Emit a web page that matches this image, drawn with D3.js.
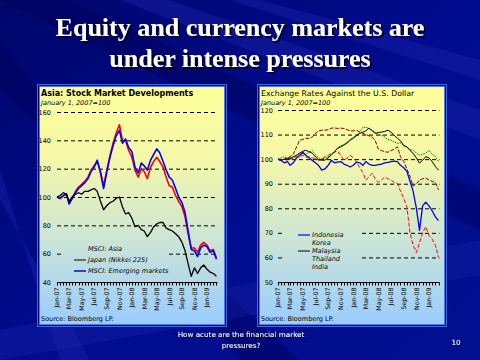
<!DOCTYPE html>
<html><head><meta charset="utf-8">
<script src="https://cdn.jsdelivr.net/npm/d3@7"></script>
<style>html,body{margin:0;padding:0;background:#000a8a;overflow:hidden}svg{display:block}</style>
</head><body><svg id="c" width="480" height="360"></svg>
<script>
// ---------- data ----------
const dates = ["2007-01-01","2007-01-16","2007-02-01","2007-02-16","2007-03-01","2007-03-16","2007-04-01","2007-04-16","2007-05-01","2007-05-16","2007-06-01","2007-06-16","2007-07-01","2007-07-16","2007-08-01","2007-08-16","2007-09-01","2007-09-16","2007-10-01","2007-10-16","2007-11-01","2007-11-16","2007-12-01","2007-12-16",
"2008-01-01","2008-01-16","2008-02-01","2008-02-16","2008-03-01","2008-03-16","2008-04-01","2008-04-16","2008-05-01","2008-05-16","2008-06-01","2008-06-16","2008-07-01","2008-07-16","2008-08-01","2008-08-16","2008-09-01","2008-09-16","2008-10-01","2008-10-16","2008-11-01","2008-11-16","2008-12-01","2008-12-16",
"2009-01-01","2009-01-16","2009-02-01","2009-02-16"];
const xTickDates = ["2007-01-01","2007-03-01","2007-05-01","2007-07-01","2007-09-01","2007-11-01","2008-01-01","2008-03-01","2008-05-01","2008-07-01","2008-09-01","2008-11-01","2009-01-01"];
const xTickLabels = ["Jan-07","Mar-07","May-07","Jul-07","Sep-07","Nov-07","Jan-08","Mar-08","May-08","Jul-08","Sep-08","Nov-08","Jan-09"];

// Left: Asia stock markets (Jan 1 2007 = 100)
const leftYTicks = [40,60,80,100,120,140,160];
const msciAsia = [100,99,101,102,96,99,104,107,109,111,114,119,122,125,118,108,119,129,138,145,151,140,140,133,128,119,114,120,118,113,121,125,128,125,121,114,108,107,101,97,93,86,74,64,64,61,66,68,66,62,63,57];
const msciEM   = [100,99,101,102,95,99,103,106,108,110,113,118,121,126,117,106,118,128,136,143,147,138,141,135,132,121,117,124,122,119,126,130,134,131,125,119,114,112,106,100,96,89,76,63,62,58,64,66,65,61,62,56];
const nikkei   = [100,101,103,102,97,100,102,103,102,104,104,105,106,104,97,91,94,96,97,99,100,93,88,89,85,79,80,77,76,72,75,79,81,82,82,78,77,76,74,72,68,62,53,44,50,46,50,52,49,47,46,44];

// Right: exchange rates vs USD (Jan 1 2007 = 100)
const rightYTicks = [50,60,70,80,90,100,110,120];
const indonesia = [100,99.5,98.5,99,97.5,98.5,100.5,101.5,102.8,101.5,100.5,99.5,98.5,97.5,95.5,96,97.5,99.5,98.5,98.8,99,98,97.5,96.8,97.5,98.8,98.5,97.5,99,98,97.5,97.5,97.8,98,98.5,98.7,99,99.2,99,97.5,96.5,95,91,87,80,71,81,82.5,81,79,76.5,75];
const korea     = [100,99.5,100,99.5,100,100.5,101,101,101.6,100.8,101,100.5,100.4,99.5,100,101,101.5,102.4,102.8,103.3,101.5,99.6,100.4,101.6,100.5,98.8,96.5,94.5,91.5,92.7,94.3,92,90.6,91.5,92.7,92,91.5,90.5,90,87,84,80.5,70,65,62,66,70,72.5,69,67.5,65,60];
const malaysia  = [100,99.5,100,100.2,100.4,101,101.6,102.5,103.2,103.6,103,102.4,101,99.8,99.6,99.6,100.5,101.6,103,104.4,105,105.7,106.5,107.7,108.5,109.5,110.5,111,111.5,112.6,111.5,110.5,110.8,111,111.3,111.8,111,109.7,108.5,107.5,105.5,105,103.5,102.4,100.5,98.4,99.5,101,100.5,99,97,95.5];
const thailand  = [100,100.5,101,100.5,100,100.4,101.5,102,102.4,102,102.8,103.5,102,100.5,100,100.5,101,102,103,104.5,105.5,106,107,108,109,109.7,111,113,113,112.5,111.8,111,110,109.7,109,108,107.7,107,106.5,106.5,105.5,105,104,103.6,102.5,101.6,102,102.4,103.6,102,101,99];
const india     = [100,99.5,100,100.5,101,102,105,107.7,108,108.5,108.5,109,110.5,111.5,111.8,111.8,112,112.6,112.7,112.5,112.6,112.5,112,111.5,111.5,111.8,111,110.5,110,109.5,109,107.5,104,103.5,103,102.8,103.5,104,105,101,99,96,93,89,90,91.5,92,92.3,91.5,91,90.5,87.5];

// ---------- drawing ----------
const parse = d3.timeParse("%Y-%m-%d");
const T = dates.map(parse);
const svg = d3.select("#c");
const defs = svg.append("defs");

const sh = defs.append("filter").attr("id","sh").attr("x","-5%").attr("y","-20%").attr("width","115%").attr("height","160%");
sh.append("feDropShadow").attr("dx",2).attr("dy",2).attr("stdDeviation",0).attr("flood-color","#000020").attr("flood-opacity",1);
const sh2 = defs.append("filter").attr("id","sh2").attr("x","-5%").attr("y","-20%").attr("width","115%").attr("height","160%");
sh2.append("feDropShadow").attr("dx",1).attr("dy",1).attr("stdDeviation",0).attr("flood-color","#000030").attr("flood-opacity",1);

// slide background
const bg = defs.append("linearGradient").attr("id","bg").attr("x1","0").attr("y1","0").attr("x2","1").attr("y2","1");
bg.append("stop").attr("offset","0").attr("stop-color","#00066a");
bg.append("stop").attr("offset","0.5").attr("stop-color","#000c8e");
bg.append("stop").attr("offset","1").attr("stop-color","#00108f");
svg.append("rect").attr("width",480).attr("height",360).attr("fill","url(#bg)");
const streaks = [
  [[0,0],[70,0],[480,190],[480,230]],
  [[120,0],[170,0],[480,110],[480,140]],
  [[230,0],[260,0],[480,60],[480,80]],
  [[0,40],[0,90],[300,360],[240,360]],
  [[0,170],[0,200],[90,360],[60,360]],
  [[0,330],[480,240],[480,275],[0,360]]
];
svg.append("g").selectAll("path").data(streaks).join("path")
  .attr("d", d => "M" + d.join("L") + "Z")
  .attr("fill", (d,i) => i === 0 || i === 3 ? "#000058" : "#1a22a8")
  .attr("opacity", (d,i) => i === 5 ? 0.35 : 0.45);

// title
const titleLines = ["Equity and currency markets are","under intense pressures"];
const tg = svg.append("g").attr("font-family","Liberation Serif, Times New Roman, serif")
  .attr("font-weight","bold").attr("font-size",26).attr("text-anchor","middle").attr("filter","url(#sh)");
titleLines.forEach((s,i) => {
  tg.append("text").attr("x",240).attr("y",36 + i*31).attr("fill","#ffffff").text(s);
});

// panel gradient (user space so it can mask gridlines behind legends)
const pg = defs.append("linearGradient").attr("id","pg").attr("gradientUnits","userSpaceOnUse")
  .attr("x1",0).attr("y1",86).attr("x2",0).attr("y2",325);
pg.append("stop").attr("offset","0").attr("stop-color","#ffff99");
pg.append("stop").attr("offset","0.3").attr("stop-color","#f4f8a8");
pg.append("stop").attr("offset","0.62").attr("stop-color","#cfe6d2");
pg.append("stop").attr("offset","1").attr("stop-color","#99ccff");

function panel(cfg) {
  const g = svg.append("g");
  const {px, py, pw, ph} = cfg;
  g.append("rect").attr("x",px).attr("y",py).attr("width",pw).attr("height",ph).attr("fill","#4068e0");
  g.append("rect").attr("x",px+1).attr("y",py+1).attr("width",pw-2).attr("height",ph-2).attr("fill","#000a80");
  g.append("rect").attr("x",px+2).attr("y",py+2).attr("width",pw-4).attr("height",ph-4).attr("fill","#5078e8");
  g.append("rect").attr("x",px+3).attr("y",py+3).attr("width",pw-6).attr("height",ph-6).attr("fill","url(#pg)");

  g.append("text").attr("x",px+4).attr("y",py+12).attr("font-family","DejaVu Sans, Verdana, sans-serif")
    .attr("font-size",cfg.titleSize).attr("font-weight",cfg.titleBold ? "bold" : "normal")
    .attr("fill","#000").text(cfg.title);
  g.append("text").attr("x",px+4).attr("y",py+21).attr("font-family","DejaVu Sans, Verdana, sans-serif")
    .attr("font-size",6.5).attr("font-style","italic").attr("fill","#000").text("January 1, 2007=100");

  const x = d3.scaleTime().domain([parse("2007-01-01"), parse("2009-01-01")]).range(cfg.xr);
  const y = d3.scaleLinear().domain(cfg.yd).range(cfg.yr);
  const xEnd = x(T[T.length-1]) + 1;

  // gridlines
  g.append("g").selectAll("line").data(cfg.yTicks.slice(1)).join("line")
    .attr("x1",cfg.xr[0]).attr("x2",xEnd).attr("y1",d=>y(d)+0.5).attr("y2",d=>y(d)+0.5)
    .attr("stroke","#000").attr("stroke-width",1).attr("stroke-dasharray","4,3");
  // y labels
  g.append("g").selectAll("text").data(cfg.yTicks).join("text")
    .attr("x",cfg.labelX).attr("y",d=>y(d)+2.5).attr("text-anchor","end")
    .attr("font-family","DejaVu Sans, Verdana, sans-serif").attr("font-size",6.5).attr("fill","#000").text(d=>d);

  // x axis
  const ax = g.append("g").attr("transform",`translate(0,${cfg.yr[0]+0.5})`);
  ax.append("line").attr("x1",cfg.xr[0]).attr("x2",xEnd).attr("stroke","#000");
  ax.selectAll("line.m").data(T).join("line").attr("class","m")
    .attr("x1",d=>Math.round(x(d))+0.5).attr("x2",d=>Math.round(x(d))+0.5).attr("y1",0).attr("y2",3).attr("stroke","#000");
  ax.selectAll("text").data(xTickDates).join("text")
    .attr("transform",(d)=>`translate(${x(parse(d))+2.3},5) rotate(-90)`)
    .attr("text-anchor","end").attr("font-family","DejaVu Sans, Verdana, sans-serif")
    .attr("font-size",6.3).attr("fill","#000").text((d,i)=>xTickLabels[i]);

  // legend background (masks gridlines)
  g.append("rect").attr("x",cfg.legBox[0]).attr("y",cfg.legBox[1]).attr("width",cfg.legBox[2]).attr("height",cfg.legBox[3]).attr("fill","url(#pg)");
  // legend
  const lg = g.append("g").attr("font-family","DejaVu Sans, Verdana, sans-serif").attr("font-size",6.5).attr("font-style","italic");
  cfg.legend.forEach((l,i) => {
    const ly = cfg.legY + i*cfg.legStep;
    if (l.line) lg.append("line").attr("x1",cfg.legLineX[0]).attr("x2",cfg.legLineX[1]).attr("y1",ly-2).attr("y2",ly-2)
      .attr("stroke",l.color).attr("stroke-width",l.w);
    lg.append("text").attr("x",cfg.legTextX).attr("y",ly).attr("fill","#000").text(l.name);
  });

  // series
  const line = d3.line().x((d,i)=>x(T[i])).y(d=>y(d));
  cfg.series.forEach(s => {
    g.append("path").datum(s.values).attr("d",line).attr("fill","none")
      .attr("stroke",s.color).attr("stroke-width",s.w).attr("stroke-dasharray",s.dash || null)
      .attr("stroke-linejoin","round");
  });

  g.append("text").attr("x",px+4).attr("y",py+ph-6).attr("font-family","DejaVu Sans, Verdana, sans-serif")
    .attr("font-size",6.5).attr("fill","#000").text("Source: Bloomberg LP.");
}

panel({
  px:37, py:84, pw:190, ph:243,
  title:"Asia: Stock Market Developments", titleSize:8, titleBold:true,
  xr:[57,207], yd:[40,160], yr:[282,112], yTicks:leftYTicks, labelX:51,
  legBox:[63,238,106,38], legY:251, legStep:11, legLineX:[74,86], legTextX:88,
  legend:[
    {name:"MSCI: Asia", color:"#ff0000", line:false, w:1.5},
    {name:"Japan (Nikkei 225)", color:"#000", line:true, w:1},
    {name:"MSCI: Emerging markets", color:"#0000ff", line:true, w:1.5}
  ],
  series:[
    {values:msciAsia, color:"#ff0000", w:1.6},
    {values:msciEM, color:"#0000ff", w:1.6},
    {values:nikkei, color:"#000000", w:1.3}
  ]
});

panel({
  px:257, py:84, pw:190, ph:243,
  title:"Exchange Rates Against the U.S. Dollar", titleSize:7.8, titleBold:false,
  xr:[278,429], yd:[50,120], yr:[282,110], yTicks:rightYTicks, labelX:273,
  legBox:[283,226,76,47], legY:237, legStep:8, legLineX:[298,310], legTextX:312,
  legend:[
    {name:"Indonesia", color:"#0000ff", line:true, w:1.2},
    {name:"Korea", color:"#ff0000", line:false, w:1},
    {name:"Malaysia", color:"#000", line:true, w:1},
    {name:"Thailand", color:"#008000", line:false, w:1},
    {name:"India", color:"#800000", line:false, w:1}
  ],
  series:[
    {values:korea, color:"#ff0000", w:1, dash:"4,2"},
    {values:india, color:"#800000", w:1, dash:"4,1.5"},
    {values:thailand, color:"#008000", w:1, dash:"1.5,1"},
    {values:malaysia, color:"#000000", w:1},
    {values:indonesia, color:"#0000ff", w:1.3}
  ]
});

// footer
const fg = svg.append("g").attr("font-family","DejaVu Sans, Verdana, sans-serif").attr("font-size",7.2)
  .attr("fill","#fff").attr("filter","url(#sh2)");
[["How acute are the financial market",241,337],["pressures?",241,348]].forEach(([s,xx,yy]) => {
  fg.append("text").attr("x",xx).attr("y",yy).attr("text-anchor","middle").text(s);
});
fg.append("text").attr("x",456).attr("y",345).attr("text-anchor","middle").text("10");
</script></body></html>
